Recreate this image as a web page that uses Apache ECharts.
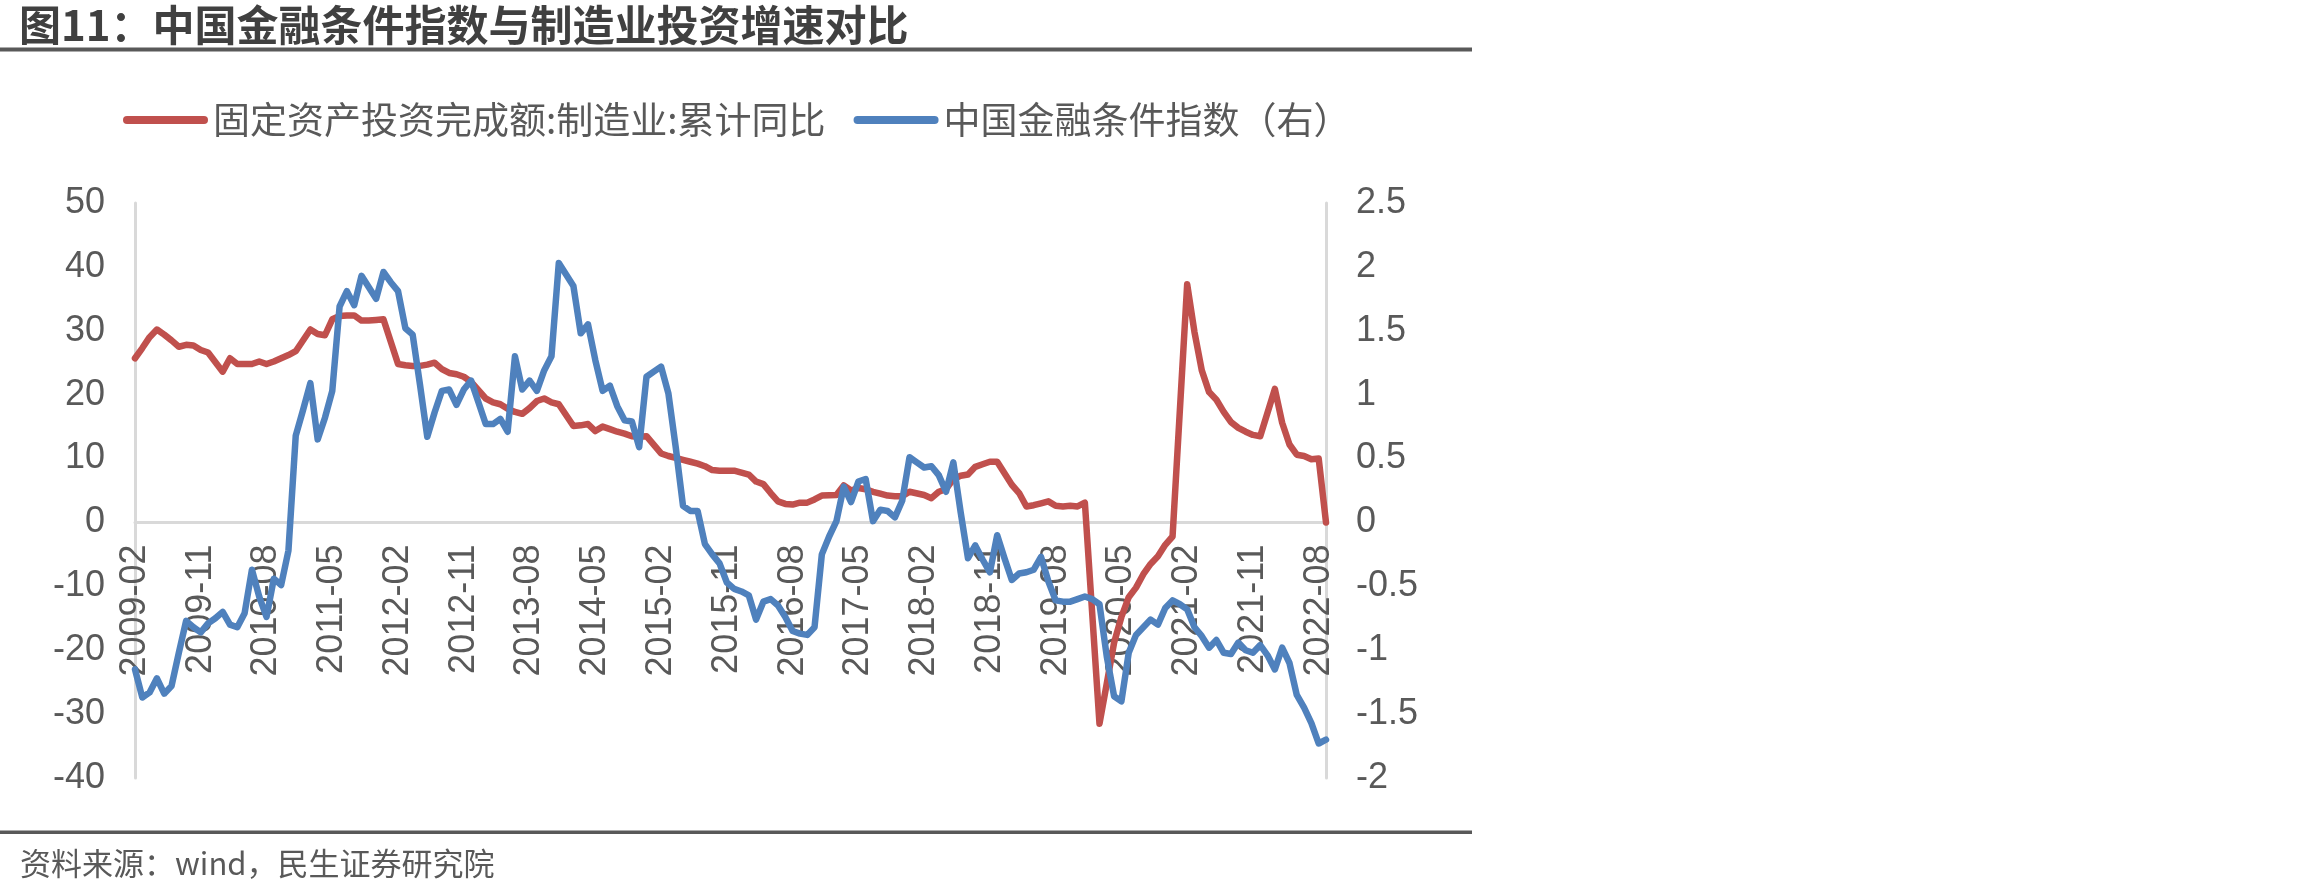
<!DOCTYPE html>
<html>
<head>
<meta charset="utf-8">
<title>中国金融条件指数与制造业投资增速对比</title>
<script src="https://cdn.jsdelivr.net/npm/echarts@6/dist/echarts.min.js"></script>
<style>
  html, body { margin: 0; padding: 0; background: #fff; }
  #chart { width: 2310px; height: 895px; }
</style>
</head>
<body>
<div id="chart"></div>
<script>
// 月份 2009-02 ~ 2022-09
const months = [];
for (let k = 0; k < 164; k++) {
  const t = 2009 * 12 + 1 + k;
  months.push(Math.floor(t / 12) + '-' + String(t % 12 + 1).padStart(2, '0'));
}

// 固定资产投资完成额:制造业:累计同比（%，1月无数据）
const mfgInvest = [
  25.7, 27.3, 29.0, 30.2, 29.4, 28.5, 27.5, 27.8, 27.7, 27.0, 26.6,
  null, 23.6, 25.7, 24.8, 24.8, 24.8, 25.2, 24.8, 25.2, 25.7, 26.2, 26.8,
  null, 30.2, 29.5, 29.3, 31.8, 32.3, 32.4, 32.4, 31.6, 31.6, 31.7, 31.8,
  null, 24.8, 24.6, 24.5, 24.5, 24.7, 25.0, 24.0, 23.4, 23.2, 22.8, 22.0,
  null, 19.4, 18.8, 18.5, 17.8, 17.3, 17.0, 17.9, 19.0, 19.4, 18.8, 18.5,
  null, 15.1, 15.2, 15.4, 14.3, 15.0, 14.6, 14.2, 13.9, 13.5, 13.4, 13.5,
  null, 10.8, 10.4, 10.1, 9.8, 9.5, 9.2, 8.8, 8.2, 8.1, 8.1, 8.1,
  null, 7.5, 6.4, 6.0, 4.6, 3.3, 2.9, 2.8, 3.1, 3.1, 3.6, 4.2,
  null, 4.3, 5.8, 5.0, 5.4, 5.2, 4.8, 4.5, 4.2, 4.1, 4.1, 4.8,
  null, 4.3, 3.8, 4.8, 5.2, 6.8, 7.3, 7.5, 8.7, 9.1, 9.5, 9.5,
  null, 5.9, 4.6, 2.5, 2.7, 3.0, 3.3, 2.6, 2.5, 2.6, 2.5, 3.1,
  null, -31.5, -25.2, -18.8, -14.8, -11.7, -10.2, -8.1, -6.5, -5.3, -3.5, -2.2,
  null, 37.3, 29.8, 23.8, 20.4, 19.2, 17.3, 15.7, 14.8, 14.2, 13.7, 13.5,
  null, 20.9, 15.6, 12.2, 10.6, 10.4, 9.9, 10.0, 0
];

// 中国金融条件指数（右轴）
const fci = [
  -1.15, -1.37, -1.33, -1.22, -1.34, -1.28, -1.02, -0.77, -0.82, -0.86, -0.79,
  -0.75, -0.70, -0.80, -0.82, -0.71, -0.37, -0.58, -0.74, -0.44, -0.49, -0.22, 0.68,
  0.88, 1.09, 0.65, 0.82, 1.03, 1.69, 1.81, 1.70, 1.93, 1.84, 1.75, 1.96,
  1.88, 1.81, 1.52, 1.47, 1.08, 0.67, 0.86, 1.03, 1.04, 0.92, 1.04, 1.11,
  0.94, 0.77, 0.77, 0.81, 0.71, 1.30, 1.04, 1.11, 1.03, 1.19, 1.30, 2.03,
  1.94, 1.85, 1.48, 1.55, 1.27, 1.03, 1.07, 0.91, 0.80, 0.79, 0.59, 1.14,
  1.18, 1.22, 1.01, 0.59, 0.13, 0.09, 0.09, -0.17, -0.25, -0.32, -0.47, -0.52,
  -0.54, -0.57, -0.76, -0.62, -0.60, -0.65, -0.74, -0.85, -0.87, -0.88, -0.82, -0.25,
  -0.11, 0.01, 0.28, 0.16, 0.32, 0.34, 0.01, 0.10, 0.09, 0.04, 0.17, 0.51,
  0.47, 0.43, 0.44, 0.37, 0.24, 0.47, 0.08, -0.28, -0.18, -0.29, -0.39, -0.10,
  -0.28, -0.45, -0.40, -0.39, -0.37, -0.27, -0.46, -0.61, -0.62, -0.62, -0.60, -0.58,
  -0.60, -0.64, -1.05, -1.36, -1.40, -1.02, -0.88, -0.82, -0.76, -0.80, -0.67, -0.61,
  -0.64, -0.68, -0.82, -0.89, -0.98, -0.92, -1.02, -1.03, -0.94, -1.00, -1.02, -0.96,
  -1.04, -1.15, -0.98, -1.10, -1.35, -1.45, -1.57, -1.73, -1.70
];

const numFont = '"Liberation Sans", Arial, sans-serif';
const cjkFont = '"Noto Sans CJK SC", sans-serif';
const textColor = '#595959';
const axisColor = '#D9D9D9';
const capsule = 'path://M4,0 L81,0 A4,4 0 0 1 81,8 L4,8 A4,4 0 0 1 4,0 Z';

// 绘图区：上 203，下 778；0 线在 50/90 处
const gridTop = 203, gridBottom = 778;
const zeroOffset = (gridBottom - gridTop) * 40 / 90;

const chart = echarts.init(document.getElementById('chart'));
chart.setOption({
  animation: false,
  backgroundColor: '#fff',
  title: [
    {
      text: '图11：中国金融条件指数与制造业投资增速对比',
      left: 19, top: 0,
      padding: 0,
      textStyle: { fontFamily: cjkFont, fontSize: 42, fontWeight: 'bold', color: '#404040', lineHeight: 50 }
    },
    {
      text: '资料来源：wind，民生证券研究院',
      left: 20, top: 843,
      padding: 0,
      textStyle: { fontFamily: cjkFont, fontSize: 31, fontWeight: 'normal', color: textColor, lineHeight: 40 }
    }
  ],
  graphic: [
    { type: 'rect', shape: { x: 0, y: 47.5, width: 1472, height: 4 }, style: { fill: '#595959' } },
    { type: 'rect', shape: { x: 0, y: 830.5, width: 1472, height: 3.5 }, style: { fill: '#595959' } }
  ],
  legend: {
    left: 123, top: 98,
    padding: 0,
    itemWidth: 85, itemHeight: 9, itemGap: 28,
    textStyle: { fontFamily: cjkFont, fontSize: 37, color: textColor, lineHeight: 44 },
    data: [
      { name: '固定资产投资完成额:制造业:累计同比', icon: capsule },
      { name: '中国金融条件指数（右）', icon: capsule }
    ]
  },
  grid: { left: 135, right: 984, top: gridTop, bottom: 895 - gridBottom, outerBoundsMode: 'none', containLabel: false },
  xAxis: [
    {
      // 0 轴线
      type: 'category',
      data: months,
      boundaryGap: false,
      axisLine: { onZero: true, lineStyle: { color: axisColor, width: 3 } },
      axisTick: { show: false },
      axisLabel: { show: false },
      splitLine: { show: false }
    },
    {
      // 标签贴在 0 线下方
      type: 'category',
      data: months,
      boundaryGap: false,
      position: 'bottom',
      offset: -zeroOffset,
      axisLine: { show: false, onZero: false },
      axisTick: { show: false },
      axisLabel: {
        interval: 8, rotate: 90, margin: 22,
        fontFamily: numFont, fontSize: 36, color: textColor
      },
      splitLine: { show: false }
    }
  ],
  yAxis: [
    {
      type: 'value', min: -40, max: 50, interval: 10,
      axisLine: { show: true, lineStyle: { color: axisColor, width: 3 } },
      axisTick: { show: false },
      splitLine: { show: false },
      axisLabel: { margin: 30, fontFamily: numFont, fontSize: 36, color: textColor }
    },
    {
      type: 'value', min: -2, max: 2.5, interval: 0.5,
      axisLine: { show: true, lineStyle: { color: axisColor, width: 3 } },
      axisTick: { show: false },
      splitLine: { show: false },
      axisLabel: { margin: 30, fontFamily: numFont, fontSize: 36, color: textColor }
    }
  ],
  series: [
    {
      name: '固定资产投资完成额:制造业:累计同比',
      type: 'line',
      yAxisIndex: 0,
      data: mfgInvest,
      connectNulls: true,
      showSymbol: false,
      color: '#C0504D',
      lineStyle: { width: 6.5, color: '#C0504D', cap: 'round', join: 'round' }
    },
    {
      name: '中国金融条件指数（右）',
      type: 'line',
      yAxisIndex: 1,
      data: fci,
      showSymbol: false,
      color: '#4F81BD',
      lineStyle: { width: 6.5, color: '#4F81BD', cap: 'round', join: 'round' }
    }
  ]
});
</script>
</body>
</html>
